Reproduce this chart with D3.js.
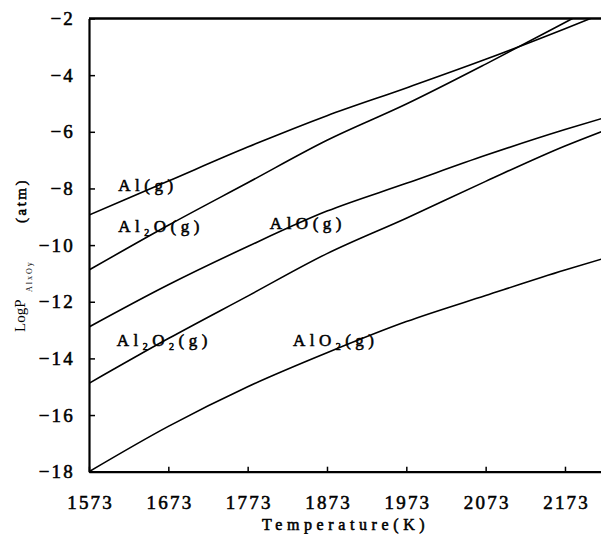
<!DOCTYPE html>
<html>
<head>
<meta charset="utf-8">
<script src="https://cdnjs.cloudflare.com/ajax/libs/d3/7.8.5/d3.min.js"></script>
<style>
body{margin:0;background:#fff;}
svg{display:block;font-family:"Liberation Serif","Times New Roman",serif;}
.heavy{stroke:#000;stroke-width:0.55px;fill:#000;}
</style>
</head>
<body>
<script>
// temperatures (K) where the curves were read
const temps = [1573, 1673, 1773, 1873, 1973, 2073, 2173, 2223];
// log partial pressure (atm) of each gas species
const alG    = [-8.94, -7.74, -6.54, -5.43, -4.45, -3.44, -2.36, -1.8];
const al2oG  = [-10.88, -9.3, -7.8, -6.3, -5.02, -3.61, -2.14, -1.4];
const aloG   = [-12.89, -11.4, -10.05, -8.8, -7.82, -6.83, -5.92, -5.5];
const al2o2G = [-14.88, -13.3, -11.8, -10.3, -9.05, -7.75, -6.5, -5.95];
const alo2G  = [-18, -16.4, -15.0, -13.8, -12.7, -11.78, -10.88, -10.46];

const xTicks = [1573, 1673, 1773, 1873, 1973, 2073, 2173];
const yTicks = [-18, -16, -14, -12, -10, -8, -6, -4, -2];

// curve labels: pieces of text, 1 = subscript
const labelParts = [
    [["Al(g)", 0]],
    [["Al", 0], ["2", 1], ["O(g)", 0]],
    [["AlO(g)", 0]],
    [["Al", 0], ["2", 1], ["O", 0], ["2", 1], ["(g)", 0]],
    [["AlO", 0], ["2", 1], ["(g)", 0]]
];
const labelT = [1610, 1610, 1801, 1608, 1830];
const labelV = [-8.09, -9.54, -9.44, -13.57, -13.57];

const w = 601, h = 534;
const plotLeft = 89, plotTop = 18.5, plotBottom = 471.7;

const svg = d3.select("body").append("svg")
    .attr("width", w)
    .attr("height", h);

const x_scale = d3.scaleLinear()
    .domain([1573, 2223])
    .range([plotLeft, plotLeft + 650 * 0.7933]);

const y_scale = d3.scaleLinear()
    .domain([-18, -2])
    .range([plotBottom, plotTop]);

svg.append("clipPath")
    .attr("id", "plot")
    .append("rect")
    .attr("x", plotLeft)
    .attr("y", plotTop)
    .attr("width", w - plotLeft)
    .attr("height", plotBottom - plotTop);

const line = d3.line()
    .x((d, i) => x_scale(temps[i]))
    .y(d => y_scale(d))
    .curve(d3.curveMonotoneX);

svg.append("g")
    .attr("clip-path", "url(#plot)")
    .selectAll("path")
    .data([alG, al2oG, aloG, al2o2G, alo2G])
    .enter()
    .append("path")
    .attr("d", line)
    .attr("fill", "none")
    .attr("stroke", "#000")
    .attr("stroke-width", 1.6);

// axes, ticks pointing inward
const x_axis = d3.axisBottom(x_scale)
    .tickValues(xTicks)
    .tickFormat(d3.format("d"))
    .tickSizeInner(-5)
    .tickSizeOuter(0)
    .tickPadding(24);

const y_axis = d3.axisLeft(y_scale)
    .tickValues(yTicks)
    .tickFormat(d => d < 0 ? "\u2212" + Math.abs(d) : d)
    .tickSizeInner(-6)
    .tickSizeOuter(0)
    .tickPadding(14);

const gx = svg.append("g")
    .attr("transform", `translate(0, ${plotBottom})`)
    .call(x_axis);

const gy = svg.append("g")
    .attr("transform", `translate(${plotLeft}, 0)`)
    .call(y_axis);

[gx, gy].forEach(g => {
    g.attr("font-family", null);
    g.select(".domain").attr("stroke-width", 2.2);
    g.selectAll(".tick line").attr("stroke-width", 1.5);
    g.selectAll(".tick text")
        .attr("class", "heavy")
        .style("font-size", "19px")
        .style("letter-spacing", "2.2px");
});
gx.selectAll(".tick text").attr("dx", "1.1px");

// top frame line
svg.append("line")
    .attr("x1", plotLeft)
    .attr("x2", w)
    .attr("y1", plotTop)
    .attr("y2", plotTop)
    .attr("stroke", "#000")
    .attr("stroke-width", 2.5);

// curve labels
const labels = svg.append("g")
    .attr("class", "heavy")
    .style("font-size", "17px")
    .style("letter-spacing", "4.5px");

labelParts.forEach((parts, i) => {
    const t = labels.append("text")
        .attr("x", x_scale(labelT[i]))
        .attr("y", y_scale(labelV[i]));
    let shifted = false;
    parts.forEach(p => {
        const ts = t.append("tspan").text(p[0]);
        if (p[1] && !shifted) {
            ts.attr("dy", 4).style("font-size", "10px");
            shifted = true;
        } else if (p[1]) {
            ts.style("font-size", "10px");
        } else if (shifted) {
            ts.attr("dy", -4);
            shifted = false;
        }
    });
});

// axis titles
svg.append("text")
    .attr("class", "heavy")
    .attr("x", 262)
    .attr("y", 530)
    .style("font-size", "16px")
    .style("letter-spacing", "4.6px")
    .text("Temperature(K)");

svg.append("text")
    .attr("transform", "translate(25, 332) rotate(-90)")
    .style("font-size", "15px")
    .text("LogP");

svg.append("text")
    .attr("transform", "translate(31.5, 292) rotate(-90)")
    .style("font-size", "8px")
    .style("letter-spacing", "2px")
    .text("AlxOy");

svg.append("text")
    .attr("class", "heavy")
    .attr("transform", "translate(26, 223) rotate(-90)")
    .style("font-size", "15px")
    .style("letter-spacing", "2.5px")
    .text("(atm)");
</script>
</body>
</html>
